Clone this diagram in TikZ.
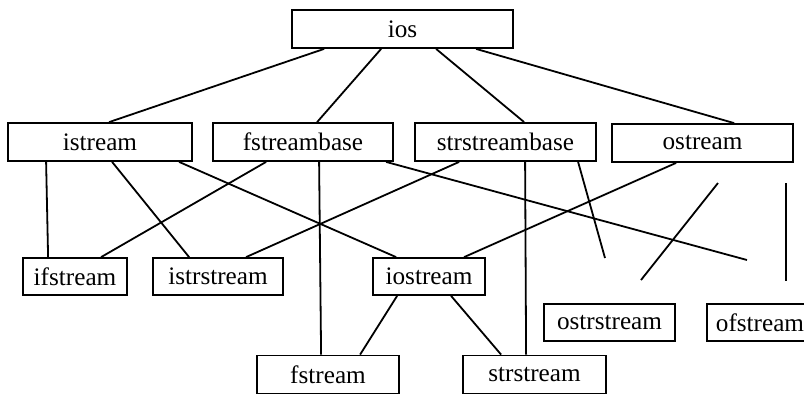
\documentclass[tikz,border=0pt]{standalone}
\usepackage{fontspec}
\setmainfont{Liberation Serif}
\usetikzlibrary{calc}

\begin{document}
\begin{tikzpicture}[x=0.5pt, y=-0.5pt, line width=0.9pt,
    box/.style={draw, rectangle, minimum height=19pt, inner sep=0pt, font=\fontsize{12.6}{14}\selectfont},
    link/.style={draw, line width=0.9pt}]
    \useasboundingbox (0,0) rectangle (804,393);

    % Base class
    \node[box, minimum width=110.5pt] (ios) at (402.5,29) {ios};

    % Second level
    \node[box, minimum width=92pt] (istream) at (100,142) {istream};
    \node[box, minimum width=90pt] (fstreambase) at (303,142) {fstreambase};
    \node[box, minimum width=90.5pt] (strstreambase) at (505.5,142) {strstreambase};
    \node[box, minimum width=90.5pt] (ostream) at (702.5,143) {ostream};

    % Third level
    \node[box, minimum width=52pt, minimum height=18.5pt] (ifstream) at (75,276.5) {ifstream};
    \node[box, minimum width=65pt, minimum height=18.5pt] (istrstream) at (218,276.5) {istrstream};
    \node[box, minimum width=56pt, minimum height=18.5pt] (iostream) at (429,276.5) {iostream};
    \node[box, minimum width=65.5pt, minimum height=18.5pt] (ostrstream) at (609.5,322.5) {ostrstream};
    % runs off the right edge
    \node[box, minimum height=18.5pt, anchor=west, inner xsep=4.5pt, text width=55pt, align=left] (ofstream) at (706,322.5) {ofstream};

    % Bottom level
    \node[box, minimum width=71pt] (fstream) at (328,374.5) {fstream};
    \node[box, minimum width=71.5pt] (strstream) at (534.5,374.5) {strstream};

    % Loose line ends
    \coordinate (ofsEnd) at (747,260);
    \coordinate (osrEnd) at (605,258);
    \coordinate (osrTop) at (718,183);
    \coordinate (osrLow) at (641,280);
    \coordinate (ofsTop) at (786,183);
    \coordinate (ofsLow) at (786,281);

    % ios to second level
    \draw ($(ios.south west)+(33,0)$) -- ($(istream.north west)+(102,0)$);
    \draw ($(ios.south west)+(90,0)$) -- ($(fstreambase.north west)+(105,0)$);
    \draw ($(ios.south west)+(145,0)$) -- ($(strstreambase.north west)+(110,0)$);
    \draw ($(ios.south west)+(185,0)$) -- ($(ostream.north west)+(123,0)$);

    % istream
    \draw ($(istream.south west)+(39,0)$) -- ($(ifstream.north west)+(26,0)$);
    \draw ($(istream.south west)+(105,0)$) -- ($(istrstream.north west)+(37,0)$);
    \draw ($(istream.south west)+(172,0)$) -- ($(iostream.north west)+(24,0)$);

    % fstreambase
    \draw ($(fstreambase.south west)+(54,0)$) -- ($(ifstream.north west)+(79,0)$);
    \draw ($(fstreambase.south west)+(107,0)$) -- ($(fstream.north west)+(65,0)$);
    \draw ($(fstreambase.south west)+(174,0)$) -- (ofsEnd);

    % strstreambase
    \draw ($(strstreambase.south west)+(45,0)$) -- ($(istrstream.north west)+(94,0)$);
    \draw ($(strstreambase.south west)+(111,0)$) -- ($(strstream.north west)+(64,0)$);
    \draw ($(strstreambase.south west)+(164,0)$) -- (osrEnd);

    % ostream
    \draw ($(ostream.south west)+(65,0)$) -- ($(iostream.north west)+(92,0)$);
    \draw (osrTop) -- (osrLow);
    \draw (ofsTop) -- (ofsLow);

    % iostream
    \draw ($(iostream.south west)+(25,0)$) -- ($(fstream.north west)+(104,0)$);
    \draw ($(iostream.south west)+(79,0)$) -- ($(strstream.north west)+(39,0)$);
\end{tikzpicture}
\end{document}
